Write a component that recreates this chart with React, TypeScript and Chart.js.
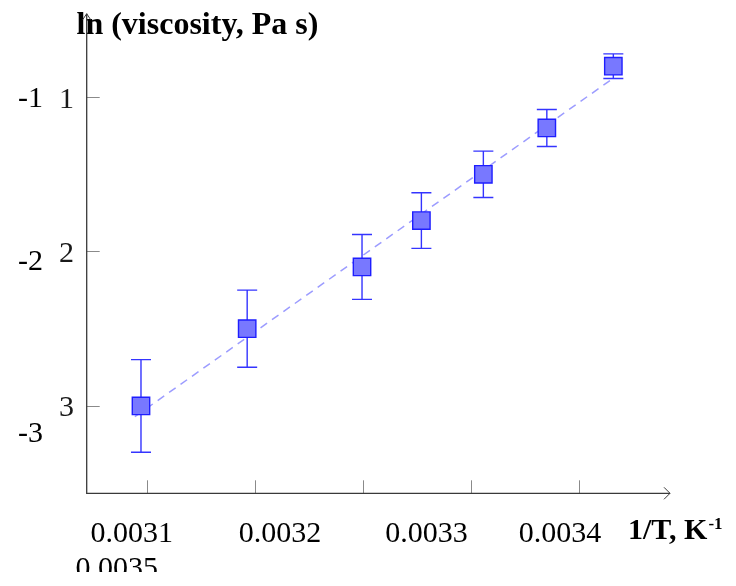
import { useEffect, useRef } from "react";
import { Chart, registerables } from "chart.js";

Chart.register(...registerables);

// ---- data ----
const invT = [0.0030947, 0.0031929, 0.0032991, 0.003354, 0.0034113, 0.00347, 0.0035315];
const lnVisc = [-3.0, -2.5, -2.1, -1.8, -1.5, -1.2, -0.8];
const lnErr = [0.3, 0.25, 0.21, 0.18, 0.15, 0.12, 0.08];
const fitX = [0.003089, 0.003531];
const fitY = [-3.07, -0.88];
const xTicks = [0.0031, 0.0032, 0.0033, 0.0034, 0.0035];
const xTickLabels = ["0.0031", "0.0032", "0.0033", "0.0034", "0.0035"];
const yTicks = [-1, -2, -3];
const yTickLabels = ["1", "2", "3"];
const ySignedLabels = ["-1", "-2", "-3"];
const yTitle = "ln (viscosity, Pa s)";
const xTitle = "1/T, K";
const xTitleSup = "-1";

// ---- style / layout ----
const SERIF = "'Liberation Serif', 'Times New Roman', serif";
const X_MIN = 0.0030445;
const X_MAX = 0.0035839;
const Y_MIN = -3.566;
const Y_MAX = -0.46;
// label text placement (reference layout is offset from ticks)
const xLabelPos = [
  { x: 131.7, y: 541.5 },
  { x: 280, y: 541.5 },
  { x: 426.5, y: 541.5 },
  { x: 560, y: 541.5 },
  { x: 116.7, y: 577 },
];
const ySignedPos = [
  { x: 43, y: 107 },
  { x: 43, y: 270 },
  { x: 43, y: 442 },
];

const overlay = {
  id: "overlay",
  beforeDatasetDraw(chart: any, args: any) {
    if (args.index !== 0) return;
    const { ctx, scales } = chart;
    const xs = scales.x;
    const ys = scales.y;
    ctx.save();
    ctx.strokeStyle = "#3434ff";
    ctx.lineWidth = 1.4;
    for (let i = 0; i < invT.length; i++) {
      const px = xs.getPixelForValue(invT[i]);
      const top = ys.getPixelForValue(lnVisc[i] + lnErr[i]);
      const bot = ys.getPixelForValue(lnVisc[i] - lnErr[i]);
      ctx.beginPath();
      ctx.moveTo(px, top);
      ctx.lineTo(px, bot);
      ctx.moveTo(px - 10, top);
      ctx.lineTo(px + 10, top);
      ctx.moveTo(px - 10, bot);
      ctx.lineTo(px + 10, bot);
      ctx.stroke();
    }
    ctx.restore();
  },
  afterDraw(chart: any) {
    const { ctx, scales, chartArea } = chart;
    const xs = scales.x;
    const ys = scales.y;
    const left = chartArea.left;
    const right = chartArea.right;
    const top = chartArea.top;
    const bottom = chartArea.bottom;
    ctx.save();

    // titles
    ctx.fillStyle = "#000";
    ctx.textBaseline = "alphabetic";
    ctx.textAlign = "left";
    ctx.font = `bold 32px ${SERIF}`;
    ctx.fillText(yTitle, 76.5, 33.5);
    ctx.font = `bold 30px ${SERIF}`;
    ctx.fillText(xTitle, 628, 539);
    const w = ctx.measureText(xTitle).width;
    ctx.font = `bold 17px ${SERIF}`;
    ctx.fillText(xTitleSup, 628 + w + 1, 529);

    // x tick labels
    ctx.font = `30px ${SERIF}`;
    ctx.textAlign = "center";
    for (let i = 0; i < xTickLabels.length; i++) {
      const p = xLabelPos[i];
      ctx.save();
      ctx.beginPath();
      ctx.rect(0, 0, chart.width, 572);
      ctx.clip();
      ctx.fillText(xTickLabels[i], p.x, p.y);
      ctx.restore();
    }

    // y tick labels
    ctx.textAlign = "right";
    ctx.fillStyle = "#1a1a1a";
    for (let i = 0; i < yTicks.length; i++) {
      const py = ys.getPixelForValue(yTicks[i]);
      ctx.fillText(yTickLabels[i], 74, py + 10.5);
    }
    ctx.fillStyle = "#000";
    for (let i = 0; i < ySignedLabels.length; i++) {
      const p = ySignedPos[i];
      ctx.fillText(ySignedLabels[i], p.x, p.y);
    }

    // ticks
    ctx.strokeStyle = "#8a8a8a";
    ctx.lineWidth = 1;
    ctx.beginPath();
    for (const v of xTicks) {
      const px = Math.round(xs.getPixelForValue(v)) + 0.5;
      ctx.moveTo(px, bottom);
      ctx.lineTo(px, bottom - 13);
    }
    for (const v of yTicks) {
      const py = Math.round(ys.getPixelForValue(v)) + 0.5;
      ctx.moveTo(left, py);
      ctx.lineTo(left + 13, py);
    }
    ctx.stroke();

    // axes with arrows
    ctx.strokeStyle = "#3a3a3a";
    ctx.lineWidth = 1.3;
    ctx.beginPath();
    ctx.moveTo(left, top);
    ctx.lineTo(left, bottom);
    ctx.lineTo(right, bottom);
    ctx.stroke();
    ctx.lineWidth = 1;
    ctx.beginPath();
    ctx.moveTo(right - 6, bottom - 6);
    ctx.lineTo(right, bottom);
    ctx.lineTo(right - 6, bottom + 6);
    ctx.moveTo(left - 4, top + 6);
    ctx.lineTo(left, top);
    ctx.lineTo(left + 4, top + 6);
    ctx.stroke();

    ctx.restore();
  },
};

export default function App() {
  const ref = useRef<HTMLCanvasElement | null>(null);
  useEffect(() => {
    document.body.style.margin = "0";
    const canvas = ref.current;
    if (!canvas) return;
    const chart = new Chart(canvas, {
      type: "scatter",
      data: {
        datasets: [
          {
            type: "scatter",
            data: invT.map((x, i) => ({ x, y: lnVisc[i] })),
            pointStyle: "rect",
            pointRadius: 12.3,
            pointHoverRadius: 12.3,
            backgroundColor: "#7878ff",
            borderColor: "#1e1eff",
            borderWidth: 1.4,
          },
          {
            type: "line",
            data: fitX.map((x, i) => ({ x, y: fitY[i] })),
            borderColor: "#9c9cff",
            borderWidth: 1.5,
            borderDash: [8, 6],
            pointRadius: 0,
            fill: false,
          },
        ],
      } as any,
      options: {
        responsive: false,
        animation: false,
        events: [],
        layout: { padding: { left: 86.7, right: 66, top: 9, bottom: 92.7 } },
        plugins: { legend: { display: false }, tooltip: { enabled: false } },
        scales: {
          x: { type: "linear", display: false, min: X_MIN, max: X_MAX },
          y: { type: "linear", display: false, min: Y_MIN, max: Y_MAX },
        },
      },
      plugins: [overlay],
    });
    return () => chart.destroy();
  }, []);
  return (
    <div style={{ width: 736, height: 586, background: "#fff" }}>
      <canvas ref={ref} width={736} height={586} />
    </div>
  );
}
